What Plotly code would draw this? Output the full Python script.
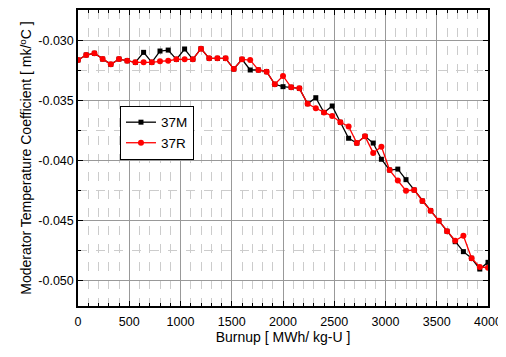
import plotly.graph_objects as go

burnup = [0, 80, 160, 240, 320, 400, 480, 560, 640, 720, 800, 880, 960, 1040, 1120,
          1200, 1280, 1360, 1440, 1520, 1600, 1680, 1760, 1840, 1920, 2000, 2080, 2160,
          2240, 2320, 2400, 2480, 2560, 2640, 2720, 2800, 2880, 2960, 3040, 3120, 3200,
          3280, 3360, 3440, 3520, 3600, 3680, 3760, 3840, 3920, 4000]

mtc_37m = [-0.03161, -0.03119, -0.03105, -0.03153, -0.03197, -0.03153, -0.03167, -0.03180,
           -0.03097, -0.03180, -0.03086, -0.03078, -0.03155, -0.03069, -0.03155, -0.03066,
           -0.03147, -0.03147, -0.03147, -0.03236, -0.03155, -0.03244, -0.03244, -0.03258,
           -0.03363, -0.03383, -0.03388, -0.03397, -0.03525, -0.03475, -0.03598, -0.03544,
           -0.03680, -0.03813, -0.03853, -0.03797, -0.03853, -0.03988, -0.04078, -0.04070,
           -0.04158, -0.04244, -0.04336, -0.04417, -0.04500, -0.04588, -0.04675, -0.04758,
           -0.04813, -0.04903, -0.04847]

mtc_37r = [-0.03161, -0.03119, -0.03105, -0.03153, -0.03197, -0.03153, -0.03167, -0.03180,
           -0.03180, -0.03180, -0.03172, -0.03167, -0.03155, -0.03155, -0.03155, -0.03066,
           -0.03147, -0.03147, -0.03147, -0.03236, -0.03155, -0.03161, -0.03244, -0.03258,
           -0.03363, -0.03294, -0.03388, -0.03397, -0.03525, -0.03563, -0.03598, -0.03628,
           -0.03680, -0.03714, -0.03853, -0.03797, -0.03935, -0.03883, -0.04078, -0.04165,
           -0.04250, -0.04244, -0.04336, -0.04417, -0.04500, -0.04588, -0.04667, -0.04625,
           -0.04813, -0.04885, -0.04892]

x_tick_vals = [0, 500, 1000, 1500, 2000, 2500, 3000, 3500, 4000]
x_tick_text = ["0", "500", "1000", "1500", "2000", "2500", "3000", "3500", "4000"]
y_tick_vals = [-0.030, -0.035, -0.040, -0.045, -0.050]
y_tick_text = ["-0.030", "-0.035", "-0.040", "-0.045", "-0.050"]

FONT = "Liberation Sans, Arial, sans-serif"

fig = go.Figure()
fig.add_trace(go.Scatter(
    x=burnup, y=mtc_37m, name="37M", mode="lines+markers",
    line=dict(color="black", width=1.3),
    marker=dict(symbol="square", size=5, color="black"),
))
fig.add_trace(go.Scatter(
    x=burnup, y=mtc_37r, name="37R", mode="lines+markers",
    line=dict(color="#ff0000", width=1.3),
    marker=dict(symbol="circle", size=6, color="#ff0000"),
))

axis_common = dict(
    showline=True, linecolor="black", linewidth=1.5, mirror="ticks",
    ticks="inside", ticklen=5, tickcolor="black", tickwidth=1,
    showgrid=True, gridcolor="#999999", gridwidth=1.2,
    zeroline=False, automargin=False,
    tickfont=dict(family=FONT, size=12.5, color="black"),
)

fig.update_xaxes(
    **axis_common,
    range=[0, 4000], tickvals=x_tick_vals, ticktext=x_tick_text,
    ticklabelstandoff=3,
    minor=dict(dtick=100, tick0=0, showgrid=True, gridcolor="#cccccc", griddash="dash",
               gridwidth=1, ticks="inside", ticklen=3, tickcolor="black"),
    title=dict(text="Burnup [ MWh/ kg-U ]", font=dict(family=FONT, size=14, color="black"),
               standoff=4),
)
fig.update_yaxes(
    **axis_common,
    range=[-0.05211, -0.02744], tickvals=y_tick_vals, ticktext=y_tick_text,
    minor=dict(dtick=0.0025, tick0=-0.03, showgrid=True, gridcolor="#cccccc", griddash="dash",
               gridwidth=1, ticks="inside", ticklen=3, tickcolor="black"),
    title=dict(text="Moderator Temperature Coefficient [ mk/<sup>o</sup>C ]",
               font=dict(family=FONT, size=14, color="black"), standoff=3),
)

fig.update_layout(
    width=498, height=349,
    margin=dict(l=70, r=18, t=2, b=51),
    paper_bgcolor="white", plot_bgcolor="white",
    showlegend=True,
    legend=dict(
        x=0.1024, y=0.676, xanchor="left", yanchor="top",
        bgcolor="white", bordercolor="black", borderwidth=1,
        font=dict(family=FONT, size=13.5, color="black"),
        tracegroupgap=0, itemwidth=30,
    ),
)

fig.write_html("out.html")
